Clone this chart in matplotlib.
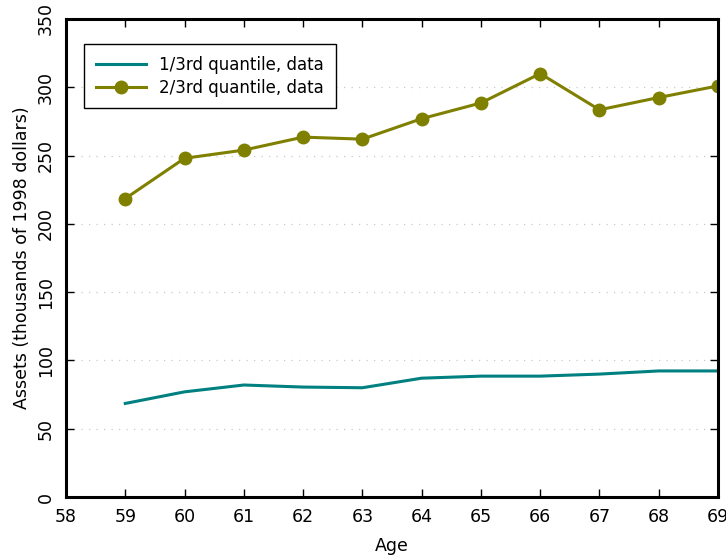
import numpy as np
import matplotlib
matplotlib.use("Agg")
import matplotlib.pyplot as plt

# Données
ages = [59, 60, 61, 62, 63, 64, 65, 66, 67, 68, 69]
q13_data = [68.5, 77, 82, 80.5, 80, 87, 88.5, 88.5, 90, 92.3, 92.3]
q23_data = [218.5, 248, 254, 263.5, 262, 277, 288.5, 310, 283.5, 292.5, 301]

xticks = list(range(58, 70))
yticks = list(range(0, 351, 50))

fig = plt.figure(figsize=(7.26, 5.58), dpi=100)
ax = fig.add_axes([0.0909, 0.1093, 0.8981, 0.8567])

# Grille horizontale pointillée
for yv in yticks[1:-1]:
    ax.axhline(yv, color="#c8c8d0", linestyle=(0, (1, 5)), linewidth=0.9, zorder=0)

ax.plot(ages, q13_data, color="#008080", linewidth=2.2, label="1/3rd quantile, data")
ax.plot(ages, q23_data, color="#808000", linewidth=2.2, marker="o", markersize=9,
        label="2/3rd quantile, data")

ax.set_xlim(58, 69)
ax.set_ylim(0, 350)
ax.set_xticks(xticks)
ax.set_yticks(yticks)
ax.tick_params(direction="in", top=True, right=True, length=6, width=1,
               labelsize=12.5, pad=8)
for lab in ax.get_yticklabels():
    lab.set_rotation(90)
    lab.set_va("center")
for sp in ax.spines.values():
    sp.set_linewidth(2.2)

ax.set_xlabel("Age", fontsize=12.5, labelpad=8)
ax.set_ylabel("Assets (thousands of 1998 dollars)", fontsize=12.5, labelpad=4)

leg = ax.legend(loc="upper left", bbox_to_anchor=(0.015, 0.965), fancybox=False,
                edgecolor="black", framealpha=1, fontsize=12, handlelength=3.0,
                handletextpad=0.8, borderpad=0.7, labelspacing=0.3)
leg.get_frame().set_linewidth(1)

plt.savefig("out.png", dpi=100)
plt.close()
